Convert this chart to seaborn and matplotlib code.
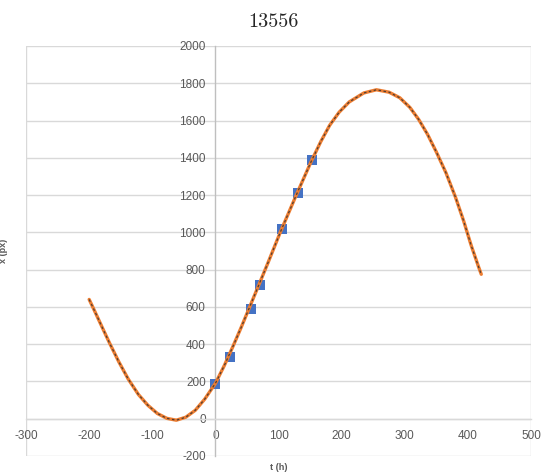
import numpy as np
import pandas as pd
import matplotlib
matplotlib.use("Agg")
import matplotlib.pyplot as plt
import seaborn as sns

# Fitted curve
curve_t = [-200, -193, -180, -168, -153, -138, -122, -107, -92, -77, -62, -47, -32,
           -17, 0, 14, 28, 41, 54, 68, 83, 103, 128, 152, 167, 181, 196, 212, 235,
           255, 275, 292, 308, 322, 336, 350, 365, 380, 393, 405, 417, 421]
curve_x = [640, 590, 495, 408, 305, 212, 130, 72, 28, 2, -8, 8, 45,
           105, 190, 285, 390, 492, 598, 712, 835, 1003, 1200, 1383, 1488, 1575, 1645, 1700, 1748,
           1765, 1752, 1722, 1670, 1605, 1525, 1430, 1320, 1190, 1062, 930, 812, 775]

# Measured points
pts_t = [0, 23, 56, 71, 106, 130, 153]
pts_x = [185, 330, 590, 716, 1016, 1209, 1387]

xticks = [-300, -200, -100, 0, 100, 200, 300, 400, 500]
yticks = list(range(-200, 2001, 200))

curve = pd.DataFrame({"t": curve_t, "x": curve_x})
pts = pd.DataFrame({"t": pts_t, "x": pts_x})

sns.set_style("white")
plt.rcParams["axes.unicode_minus"] = False
fig = plt.figure(figsize=(5.42, 4.74), dpi=100)
ax = fig.add_axes([0.048, 0.038, 0.932, 0.865])

grid_c = "#d9d9d9"
for y in yticks:
    ax.axhline(y, color=grid_c, lw=1, zorder=0)
ax.axvline(-300, color=grid_c, lw=1, zorder=0)
ax.axvline(500, color=grid_c, lw=1, zorder=0)

sns.scatterplot(data=pts, x="t", y="x", marker="s", s=48, color="#4472C4",
                edgecolor="#4472C4", linewidth=0, ax=ax, zorder=3)
sns.lineplot(data=curve, x="t", y="x", color="#ED7D31", lw=2.4, ax=ax,
             estimator=None, sort=False, zorder=4)
sns.lineplot(data=curve, x="t", y="x", color="#333333", lw=0.9, ax=ax,
             estimator=None, sort=False, zorder=5, alpha=0.85)
ax.lines[-1].set_dashes([2, 2])

ax.set_xlim(-300, 500)
ax.set_ylim(-200, 2000)
ax.set_xticks(xticks)
ax.set_yticks(yticks)

for s in ["top", "right"]:
    ax.spines[s].set_visible(False)
ax.spines["left"].set_position(("data", 0))
ax.spines["bottom"].set_position(("data", 0))
ax.spines["left"].set_color("#bfbfbf")
ax.spines["bottom"].set_color(grid_c)
ax.spines["left"].set_linewidth(1)
ax.spines["bottom"].set_linewidth(1)

lab_c = "#595959"
ax.tick_params(axis="both", length=0, labelsize=8.5, labelcolor=lab_c)
ax.tick_params(axis="y", pad=7)
ax.tick_params(axis="x", pad=8)
for lab in ax.get_xticklabels() + ax.get_yticklabels():
    lab.set_fontfamily("Liberation Sans")

ax.set_xlabel("t (h)", fontsize=6.5, color=lab_c, fontfamily="Liberation Sans", fontweight="bold")
ax.set_ylabel("x (px)", fontsize=6.5, color=lab_c, fontfamily="Liberation Sans", fontweight="bold")
ax.xaxis.set_label_coords(0.5, -0.018)
ax.yaxis.set_label_coords(-0.035, 0.5)

fig.text(0.505, 0.953, "13556", ha="center", va="center", fontsize=14.5, fontfamily="cmr10")

fig.savefig("out.png", dpi=100)
